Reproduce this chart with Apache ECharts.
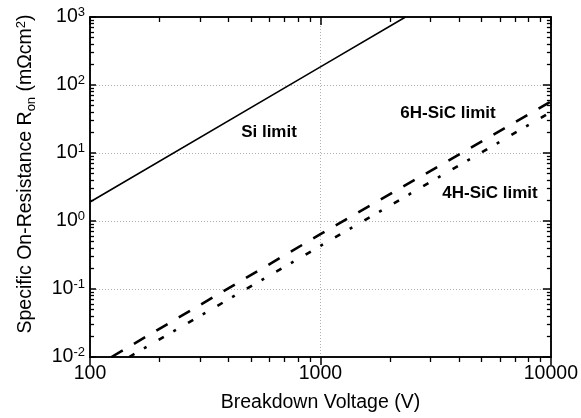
<!DOCTYPE html>
<html>
<head>
<meta charset="utf-8">
<script src="https://cdn.jsdelivr.net/npm/echarts@6/dist/echarts.min.js"></script>
<style>
html,body{margin:0;padding:0;background:#fff;}
#c{width:581px;height:418px;}
</style>
</head>
<body>
<div id="c"></div>
<script>
// ---- data ----
const xTicks = [100, 1000, 10000];
const yTicks = [0.01, 0.1, 1, 10, 100, 1000];
const xMinorTicks = [200,300,400,500,600,700,800,900,2000,3000,4000,5000,6000,7000,8000,9000];
const yMinorTicks = [0.02,0.03,0.04,0.05,0.06,0.07,0.08,0.09,0.2,0.3,0.4,0.5,0.6,0.7,0.8,0.9,2,3,4,5,6,7,8,9,20,30,40,50,60,70,80,90,200,300,400,500,600,700,800,900];
const siLimit = [[100, 1.9], [1000, 185], [2340, 1000]];
const sic6HLimit = [[124, 0.01], [1000, 0.64], [10000, 57]];
const sic4HLimit = [[148, 0.01], [1000, 0.43], [10000, 40]];
const labels = ['Si limit', '6H-SiC limit', '4H-SiC limit'];
const xName = 'Breakdown Voltage (V)';

const FONT = "'Liberation Sans', Arial, sans-serif";
const chart = echarts.init(document.getElementById('c'), null, {renderer: 'canvas'});

function xAx(pos, major, showLabel) {
  return {
    type: 'log', logBase: 10, min: 100, max: 10000, position: pos,
    axisLine: {show: true, onZero: false, lineStyle: {color: '#000', width: 1.5}},
    axisTick: {show: true, inside: pos === 'top', length: major ? 8 : 5,
               lineStyle: {color: '#000', width: major ? 1.5 : 1.3},
               customValues: major ? xTicks : xMinorTicks},
    axisLabel: showLabel ? {show: true, customValues: xTicks, fontFamily: FONT, fontSize: 19.5, color: '#000', margin: 7,
      formatter: v => String(Math.round(v))} : {show: false},
    splitLine: showLabel ? {show: true, lineStyle: {color: '#b0b0b0', type: [1, 2], width: 1}} : {show: false},
    name: showLabel ? xName : '', nameLocation: 'middle', nameGap: 36,
    nameTextStyle: {fontFamily: FONT, fontSize: 19.5, color: '#000'}
  };
}
function yAx(pos, major, showLabel) {
  return {
    type: 'log', logBase: 10, min: 0.01, max: 1000, position: pos,
    axisLine: {show: true, onZero: false, lineStyle: {color: '#000', width: 1.5}},
    axisTick: {show: true, inside: true, length: major ? (pos === 'left' ? 6 : 8) : 4,
               lineStyle: {color: '#000', width: major ? 1.5 : 1.3},
               customValues: major ? yTicks : yMinorTicks},
    axisLabel: showLabel ? {show: true, customValues: yTicks, margin: 5,
      formatter: v => '{b|10}{s|' + Math.round(Math.log10(v)) + '}',
      rich: {
        b: {fontFamily: FONT, fontSize: 19.5, color: '#000', lineHeight: 22},
        s: {fontFamily: FONT, fontSize: 13, color: '#000', verticalAlign: 'top', lineHeight: 22, padding: [0, 0, 8, 0]}
      }} : {show: false},
    splitLine: showLabel ? {show: true, lineStyle: {color: '#b0b0b0', type: [1, 2], width: 1}} : {show: false}
  };
}

const option = {
  animation: false,
  backgroundColor: '#fff',
  grid: {left: 90, right: 28, top: 17, bottom: 58, containLabel: false},
  xAxis: [xAx('bottom', true, true), xAx('bottom', false, false), xAx('top', true, false), xAx('top', false, false)],
  yAxis: [yAx('left', true, true), yAx('left', false, false), yAx('right', true, false), yAx('right', false, false)],
  series: [
    {name: labels[0], type: 'line', data: siLimit, xAxisIndex: 0, yAxisIndex: 0, showSymbol: false, symbol: 'none',
     lineStyle: {color: '#000', width: 1.6, type: 'solid'}, clip: true},
    {name: labels[1], type: 'line', data: sic6HLimit, xAxisIndex: 0, yAxisIndex: 0, showSymbol: false, symbol: 'none',
     lineStyle: {color: '#000', width: 2.6, type: [13, 13], cap: 'butt'}, clip: true},
    {name: labels[2], type: 'line', data: sic4HLimit, xAxisIndex: 0, yAxisIndex: 0, showSymbol: false, symbol: 'none',
     lineStyle: {color: '#000', width: 2.6, type: [6, 11, 3, 14], cap: 'butt'}, clip: true}
  ],
  graphic: [
    {type: 'text', x: 26, y: 174, rotation: Math.PI / 2,
     style: {text: '{n|Specific On-Resistance R}{sub|on}{n| (mΩcm}{sup|2}{n|)}', align: 'center', verticalAlign: 'middle',
       rich: {
         n: {fontFamily: FONT, fontSize: 19.5, fill: '#000', lineHeight: 24},
         sub: {fontFamily: FONT, fontSize: 13, fill: '#000', lineHeight: 24, padding: [10, 0, 0, 0]},
         sup: {fontFamily: FONT, fontSize: 13, fill: '#000', lineHeight: 24, padding: [0, 0, 10, 0]}
       }}},
    {type: 'text', x: 269, y: 132, style: {text: labels[0], font: "bold 17px " + FONT, fill: '#000', align: 'center', verticalAlign: 'middle'}},
    {type: 'text', x: 448, y: 113, style: {text: labels[1], font: "bold 17px " + FONT, fill: '#000', align: 'center', verticalAlign: 'middle'}},
    {type: 'text', x: 490, y: 193, style: {text: labels[2], font: "bold 17px " + FONT, fill: '#000', align: 'center', verticalAlign: 'middle'}}
  ]
};
chart.setOption(option);
</script>
</body>
</html>
